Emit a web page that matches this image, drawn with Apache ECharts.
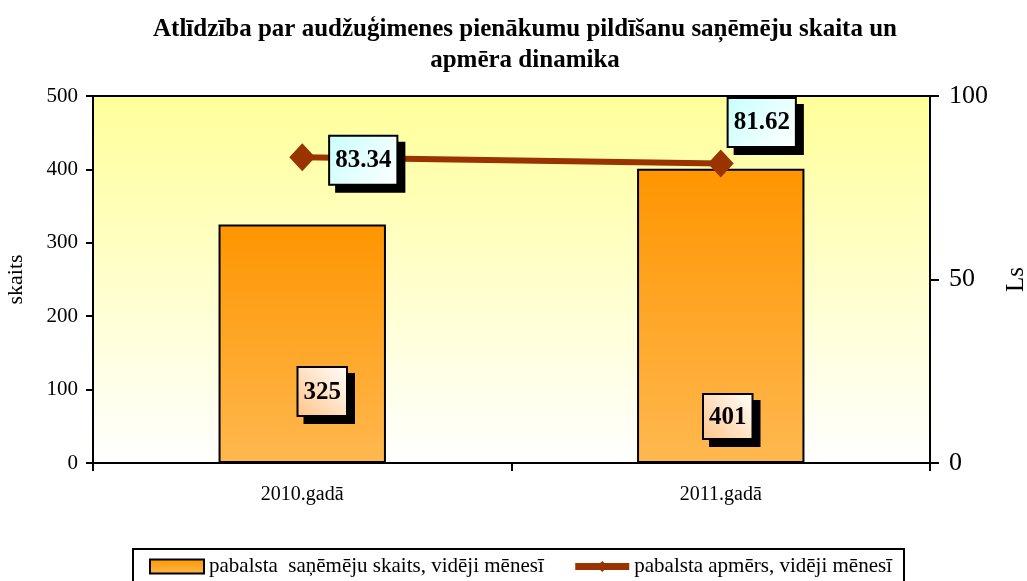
<!DOCTYPE html>
<html>
<head>
<meta charset="utf-8">
<script src="https://cdn.jsdelivr.net/npm/echarts@6/dist/echarts.min.js"></script>
<style>
  html, body { margin: 0; padding: 0; background: #ffffff; }
  #chart { width: 1027px; height: 581px; }
</style>
</head>
<body>
<div id="chart"></div>
<script>
// Chart data
const categories = ['2010.gadā', '2011.gadā'];
const recipients = [325, 401];          // pabalsta saņēmēju skaits, vidēji mēnesī
const amounts = [83.34, 81.62];         // pabalsta apmērs, vidēji mēnesī (Ls)
const leftTicks = [0, 500, 100];        // min, max, interval
const rightTicks = [0, 100, 50];
const seriesNames = ['pabalsta  saņēmēju skaits, vidēji mēnesī', 'pabalsta apmērs, vidēji mēnesī'];

const serif = '"Liberation Serif", "Times New Roman", serif';
const G = echarts.graphic.LinearGradient;

const barLabelOffsets = [[20, -43], [7, -20]];
const lineLabelOffsets = [[61, 3], [41, -41]];
const barLabelPadding = [[12, 5, 10, 5], [10, 5, 8, 5]];

const chart = echarts.init(document.getElementById('chart'));

const boxLabel = (bg) => ({
  show: true,
  fontFamily: serif,
  fontWeight: 'bold',
  fontSize: 25,
  color: '#000',
  backgroundColor: bg,
  borderColor: '#000',
  borderWidth: 2,
  shadowColor: '#000',
  shadowOffsetX: 7,
  shadowOffsetY: 7,
  shadowBlur: 0
});

chart.setOption({
  animation: false,
  title: {
    text: 'Atlīdzība par audžuģimenes pienākumu pildīšanu saņēmēju skaita un\napmēra dinamika',
    left: 520,
    textAlign: 'center',
    top: 9,
    textStyle: {
      fontFamily: serif,
      fontWeight: 'bold',
      fontSize: 25,
      lineHeight: 31,
      color: '#000'
    }
  },
  grid: {
    left: 93,
    right: 97,
    top: 96,
    bottom: 118,
    outerBoundsMode: 'none',
    show: true,
    borderColor: '#000',
    borderWidth: 2,
    backgroundColor: new G(0, 0, 0, 1, [
      { offset: 0, color: '#ffff99' },
      { offset: 1, color: '#ffffff' }
    ])
  },
  legend: {
    left: 133,
    top: 549,
    padding: [7, 12, 14, 16],
    itemGap: 28,
    itemWidth: 54,
    itemHeight: 14,
    backgroundColor: '#fff',
    borderColor: '#000',
    borderWidth: 2,
    borderRadius: 0,
    textStyle: { fontFamily: serif, fontSize: 21, color: '#000' },
    data: [
      { name: seriesNames[0], icon: 'rect', itemStyle: { borderColor: '#000', borderWidth: 2 } },
      { name: seriesNames[1], lineStyle: { width: 7 } }
    ]
  },
  xAxis: {
    type: 'category',
    data: categories,
    axisLine: { lineStyle: { color: '#000', width: 2 } },
    axisTick: { show: true, length: 8, lineStyle: { color: '#000', width: 2 } },
    axisLabel: { fontFamily: serif, fontSize: 20, color: '#000', margin: 22 }
  },
  yAxis: [
    {
      type: 'value',
      min: leftTicks[0],
      max: leftTicks[1],
      interval: leftTicks[2],
      name: 'skaits',
      nameLocation: 'middle',
      nameGap: 66,
      nameRotate: 90,
      nameTextStyle: { fontFamily: serif, fontSize: 22, color: '#000' },
      axisLine: { show: true, lineStyle: { color: '#000', width: 2 } },
      axisTick: { show: true, length: 7, lineStyle: { color: '#000', width: 2 } },
      axisLabel: { fontFamily: serif, fontSize: 21, color: '#000', margin: 15 },
      splitLine: { show: false }
    },
    {
      type: 'value',
      min: rightTicks[0],
      max: rightTicks[1],
      interval: rightTicks[2],
      name: 'Ls',
      nameLocation: 'middle',
      nameGap: 74,
      nameRotate: 90,
      nameTextStyle: { fontFamily: serif, fontSize: 25, color: '#000' },
      axisLine: { show: true, lineStyle: { color: '#000', width: 2 } },
      axisTick: { show: true, length: 9, lineStyle: { color: '#000', width: 2 } },
      axisLabel: { fontFamily: serif, fontSize: 26, color: '#000', margin: 19 },
      splitLine: { show: false }
    }
  ],
  series: [
    {
      name: seriesNames[0],
      type: 'bar',
      yAxisIndex: 0,
      barWidth: '40%',
      itemStyle: {
        color: new G(0, 0, 0, 1, [
          { offset: 0, color: '#ff9500' },
          { offset: 1, color: '#ffb84f' }
        ]),
        borderColor: '#000',
        borderWidth: 2
      },
      data: recipients.map((v, i) => ({
        value: v,
        label: Object.assign(boxLabel(new G(1, 0, 0, 1, [
          { offset: 0, color: '#ffffff' },
          { offset: 1, color: '#ffc489' }
        ])), {
          position: 'insideBottom',
          padding: barLabelPadding[i],
          offset: barLabelOffsets[i]
        })
      }))
    },
    {
      name: seriesNames[1],
      type: 'line',
      yAxisIndex: 1,
      symbol: 'diamond',
      symbolSize: [26, 28],
      lineStyle: { color: '#993300', width: 6 },
      itemStyle: { color: '#993300' },
      data: amounts.map((v, i) => ({
        value: v,
        label: Object.assign(boxLabel(new G(0, 0, 1, 1, [
          { offset: 0, color: '#c8ffff' },
          { offset: 1, color: '#ffffff' }
        ])), {
          position: 'inside',
          padding: [12, 5, 10, 5],
          offset: lineLabelOffsets[i],
          formatter: (p) => p.value.toFixed(2)
        })
      }))
    }
  ]
});
</script>
</body>
</html>
